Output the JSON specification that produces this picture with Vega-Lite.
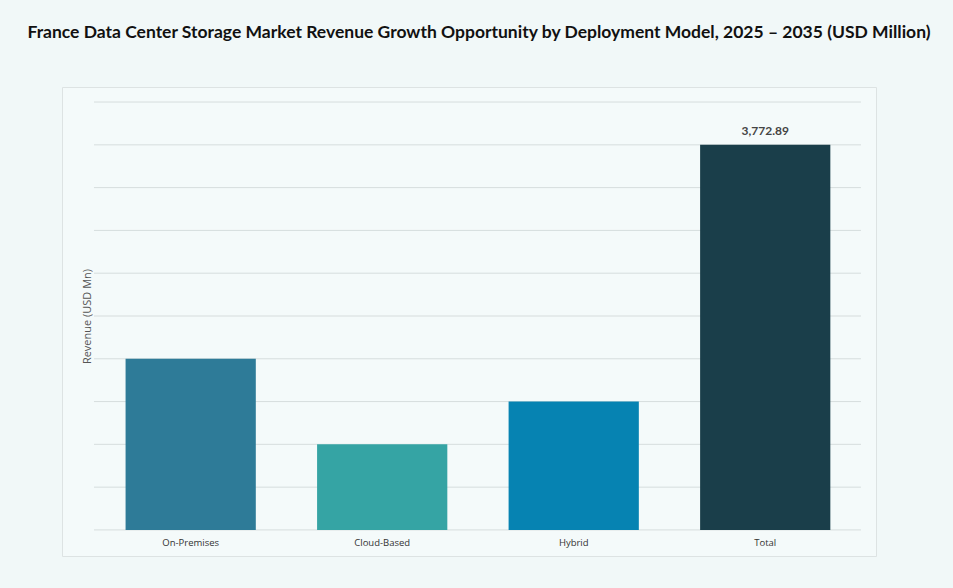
{
  "$schema": "https://vega.github.io/schema/vega-lite/v6.json",
  "autosize": {"type": "none"},
  "width": 814,
  "height": 469,
  "padding": {"left": 62, "top": 87, "right": 77, "bottom": 32},
  "background": "#f1f8f8",
  "title": {
    "text": "France Data Center Storage Market Revenue Growth Opportunity by Deployment Model, 2025 – 2035 (USD Million)",
    "font": "Lato",
    "fontSize": 17.5,
    "fontWeight": "bold",
    "color": "#111111",
    "anchor": "middle",
    "dx": 10,
    "offset": 46
  },
  "config": {
    "view": {"stroke": "#dde3e3", "strokeWidth": 1, "fill": "#f4fafa"},
    "axis": {"labelFont": "Open Sans", "titleFont": "Open Sans"}
  },
  "datasets": {
    "bars": [
      {"model": "On-Premises", "revenue": 1676.84},
      {"model": "Cloud-Based", "revenue": 838.42},
      {"model": "Hybrid", "revenue": 1257.63},
      {"model": "Total", "revenue": 3772.89}
    ],
    "grid": [
      {"v": 0}, {"v": 419.21}, {"v": 838.42}, {"v": 1257.63}, {"v": 1676.84},
      {"v": 2096.05}, {"v": 2515.26}, {"v": 2934.47}, {"v": 3353.68}, {"v": 3772.89}, {"v": 4192.1}
    ]
  },
  "layer": [
    {
      "data": {"name": "grid"},
      "mark": {"type": "rule", "color": "#d6dddd", "strokeWidth": 1},
      "encoding": {
        "x": {"datum": 0, "type": "quantitative", "scale": {"domain": [-0.0417, 1.0196], "nice": false, "zero": false}, "axis": null},
        "x2": {"datum": 1},
        "y": {"field": "v", "type": "quantitative", "scale": {"domain": [-255.4, 4339.5], "nice": false, "zero": false},
          "axis": {"title": "Revenue (USD Mn)", "labels": false, "ticks": false, "domain": false, "grid": false,
            "titleFontSize": 11, "titleColor": "#555555", "titleFontWeight": "normal", "titleX": 25, "titleY": 229, "titleAngle": -90, "titleAlign": "center", "titleBaseline": "middle"}}
      }
    },
    {
      "data": {"name": "bars"},
      "layer": [
        {
          "mark": {"type": "bar"},
          "encoding": {
            "x": {"field": "model", "type": "nominal", "sort": null,
              "scale": {"paddingInner": 0.32, "paddingOuter": 0.2852, "align": 0.582},
              "axis": {"title": null, "labelAngle": 0, "labelFontSize": 9.5, "labelColor": "#333333", "ticks": false, "domain": false, "offset": -26, "labelPadding": 7}},
            "y": {"field": "revenue", "type": "quantitative"},
            "color": {"field": "model", "type": "nominal", "legend": null,
              "scale": {"domain": ["On-Premises", "Cloud-Based", "Hybrid", "Total"], "range": ["#2e7b98", "#35a4a4", "#0683b2", "#1a3e4a"]}}
          }
        },
        {
          "transform": [{"filter": "datum.model === 'Total'"}],
          "mark": {"type": "text", "dy": -14, "font": "Lato", "fontSize": 12, "fontWeight": "bold", "color": "#444444"},
          "encoding": {
            "x": {"field": "model", "type": "nominal", "sort": null},
            "y": {"field": "revenue", "type": "quantitative"},
            "text": {"field": "revenue", "type": "quantitative", "format": ",.2f"}
          }
        }
      ]
    }
  ],
  "resolve": {"scale": {"x": "independent"}}
}
